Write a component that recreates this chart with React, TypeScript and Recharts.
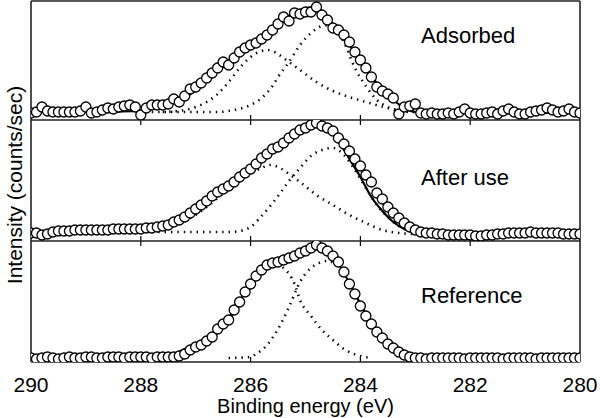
import React from "react";
import { ComposedChart, Line, XAxis, YAxis, ReferenceLine } from "recharts";

const FONT = '"Liberation Sans", Arial, Helvetica, sans-serif';

// Binding-energy grid of the measured points (eV)
const energyGrid: number[] = Array.from({ length: 101 }, (_, i) => +(290 - i * 0.1).toFixed(1));
const xTicks = [290, 288, 286, 284, 282, 280];
const innerTicks = [288, 286, 284, 282];

// Measured intensities (arbitrary units)
const adsorbedCounts = [7,8,13,9,8,8,8,8,8,9, 13,7,8,10,12,11,13,14,15,13, 5,12,15,15,15,16,21,18,24,31, 33,37,42,47,52,58,55,62,68,72, 75,77,81,85,90,96,103,99,107,106, 108,108,113,105,100,92,90,85,78,68, 60,52,43,33,29,26,22,6,13,14, 16,7,6,7,6,6,7,6,8,11, 7,6,6,7,8,6,9,11,8,6, 6,8,9,10,12,10,8,9,11,8, 7];
const afterUseCounts = [8,8,6,7,9,10,10,10,11,11, 11,11,11,11,11,12,12,12,12,12, 12, 13,13,14,15,16,19,21,24,28,32, 36,40,45,49,52,55,59,64,68,72, 77,83,87,92,94,98,103,107,111,113, 116,118,115,113,110,103,97,90,82,75, 66,59,48,42,34,28,23,18,14,11, 9,8,8,7,7,6,6,6,6,6, 5,5,6,6,7,7,8,8,8,8, 9,8,8,8,8,8,7,7,7,7];
const referenceCounts = [4,3,4,5,4,3,4,5,4,4, 5,5,4,4,5,5,5,4,5,5, 5,5,4,5,5,5,5, 6,8,12,15,17,21,25,33,38,42, 52,60,70,78,86,92,97,99,100,102, 104,106,109,111,114,117,114,111,106,100, 90,78,68,56,46,38,30,24,18,14, 10,7,5, 4,4,3,4,4,4,4,4,4,3, 4,4,4,4,4,4,3,4,4,4, 4,4,3,4,4,4,4,4,4,4, 4];

// Fitted envelopes [eV, intensity]
const adsorbedFit: [number, number][] = [[290,8],[289,8],[288,9],[287.8,11],[287.5,15],[287.2,22],[287,30],[286.8,38],[286.6,48],[286.4,58],[286.2,67],[286,76],[285.8,84],[285.6,93],[285.4,101],[285.2,107],[285,112],[284.8,113],[284.6,102],[284.4,88],[284.2,75],[284,60],[283.8,44],[283.6,30],[283.4,20],[283.2,12],[283,8],[282,7],[280,7]];
const afterUseFit: [number, number][] = [[290,8],[289.5,8],[288.5,9],[288,11],[287.8,14],[287.6,17],[287.4,21],[287.2,27],[287,33],[286.8,41],[286.6,50],[286.4,57],[286.2,65],[286,74],[285.8,84],[285.6,93],[285.4,101],[285.2,109],[285,115],[284.8,118],[284.6,113],[284.4,100],[284.2,82],[284,64],[283.8,44],[283.6,30],[283.4,19],[283.2,12],[283,9],[282,6],[281,8],[280,7]];
const referenceFit: [number, number][] = [[290,3],[288,4],[287.6,5],[287.4,8],[287.2,13],[287,17],[286.8,23],[286.6,33],[286.4,44],[286.2,61],[286,78],[285.8,92],[285.6,99],[285.4,102],[285.2,106],[285,111],[284.8,116],[284.7,116],[284.6,111],[284.4,98],[284.2,79],[284,58],[283.8,40],[283.6,26],[283.4,15],[283.2,8],[283,5],[282,4],[280,4]];

// Component peaks [eV, intensity]
const adsorbedPeakA: [number, number][] = [[287.6,8],[287.2,10],[287,13],[286.8,18],[286.6,26],[286.4,38],[286.2,52],[286,63],[285.8,69],[285.7,70],[285.5,66],[285.4,62],[285.1,50],[284.8,38],[284.5,29],[284.2,23],[283.9,18],[283.5,12],[283.2,9],[283,8]];
const adsorbedPeakB: [number, number][] = [[287.8,8],[286.6,8],[286.3,10],[286,15],[285.8,22],[285.6,34],[285.5,43],[285.3,58],[285.1,75],[284.9,87],[284.7,94],[284.5,95],[284.3,78],[284.1,52],[283.9,34],[283.7,20],[283.5,13],[283.3,9],[283,8]];
const afterUsePeakA: [number, number][] = [[288,10],[287.6,13],[287.2,20],[287,26],[286.8,34],[286.6,43],[286.4,51],[286.2,59],[286,67],[285.8,73],[285.65,76],[285.5,74],[285.3,67],[285.1,59],[284.8,46],[284.5,36],[284.2,26],[283.9,18],[283.6,11],[283.3,8],[283,7]];
const afterUsePeakB: [number, number][] = [[287.8,9],[286.4,9],[286.2,10],[286,14],[285.8,25],[285.6,38],[285.5,45],[285.3,60],[285.1,73],[284.9,85],[284.7,91],[284.5,93],[284.3,86],[284.1,71],[283.9,53],[283.7,36],[283.5,24],[283.3,15],[283.1,10],[282.9,8]];
const referencePeakA: [number, number][] = [[287.6,4],[287.4,5],[287,14],[286.6,31],[286.4,42],[286.2,58],[286,75],[285.8,89],[285.65,96],[285.5,97],[285.4,94],[285.2,78],[285.1,62],[284.9,46],[284.7,32],[284.5,22],[284.3,13],[284,6],[283.8,4]];
const referencePeakB: [number, number][] = [[286.4,4],[286,5],[285.9,8],[285.7,17],[285.5,33],[285.3,55],[285.1,80],[284.9,94],[284.7,100],[284.6,101],[284.4,95],[284.2,79],[284,58],[283.8,40],[283.6,26],[283.4,15],[283.2,8],[283,5],[282.6,4]];

const toPts = (vals: number[]) => vals.map((v, i) => ({ x: energyGrid[i], y: v }));
const pairPts = (p: [number, number][]) => p.map(([x, y]) => ({ x, y }));

const renderCircle = (props: any) => (
  <circle key={props.index} cx={props.cx} cy={props.cy} r={5} fill="#fff" stroke="#000" strokeWidth={1.3} />
);

type PanelProps = {
  top: number;
  height: number;
  marginTop: number;
  marginBottom: number;
  yMax: number;
  counts: number[];
  fit: [number, number][];
  peakA: [number, number][];
  peakB: [number, number][];
  showLabels: boolean;
  topTicks: boolean;
};

const BORDER = "#222";

function Panel(p: PanelProps) {
  return (
    <div style={{ position: "absolute", left: 0, top: p.top }}>
      <ComposedChart
        width={600}
        height={p.height}
        margin={{ top: p.marginTop, right: 20, bottom: p.marginBottom, left: 31 }}
      >
        <XAxis
          type="number"
          dataKey="x"
          domain={[280, 290]}
          reversed
          allowDataOverflow
          ticks={xTicks}
          hide={!p.showLabels}
          height={p.showLabels ? 40 : 0}
          tick={{ fontSize: 21, fill: "#000", fontFamily: FONT }}
          tickLine={false}
          tickSize={0}
          tickMargin={15}
          interval={0}
          axisLine={false}
        />
        <YAxis type="number" dataKey="y" domain={[0, p.yMax]} allowDataOverflow hide />
        {innerTicks.map((t) => (
          <ReferenceLine key={"b" + t} segment={[{ x: t, y: 0 }, { x: t, y: 5 }]} stroke="#000" strokeWidth={1.2} />
        ))}
        {p.topTicks &&
          innerTicks.map((t) => (
            <ReferenceLine key={"t" + t} segment={[{ x: t, y: p.yMax }, { x: t, y: p.yMax - 5 }]} stroke="#000" strokeWidth={1.2} />
          ))}
        <ReferenceLine segment={[{ x: 290, y: 0 }, { x: 280, y: 0 }]} stroke={BORDER} strokeWidth={1.6} />
        <ReferenceLine segment={[{ x: 290, y: p.yMax }, { x: 280, y: p.yMax }]} stroke={BORDER} strokeWidth={1.6} />
        <ReferenceLine segment={[{ x: 290, y: 0 }, { x: 290, y: p.yMax }]} stroke={BORDER} strokeWidth={1.6} />
        <ReferenceLine segment={[{ x: 280, y: 0 }, { x: 280, y: p.yMax }]} stroke={BORDER} strokeWidth={1.6} />
        <Line
          data={pairPts(p.peakA)}
          dataKey="y"
          type="monotone"
          stroke="#000"
          strokeWidth={2.6}
          strokeDasharray="1.4 5"
          dot={false}
          activeDot={false}
          isAnimationActive={false}
        />
        <Line
          data={pairPts(p.peakB)}
          dataKey="y"
          type="monotone"
          stroke="#000"
          strokeWidth={2.6}
          strokeDasharray="1.4 5"
          dot={false}
          activeDot={false}
          isAnimationActive={false}
        />
        <Line
          data={toPts(p.counts)}
          dataKey="y"
          stroke="none"
          dot={renderCircle}
          activeDot={false}
          isAnimationActive={false}
        />
        <Line
          data={pairPts(p.fit)}
          dataKey="y"
          type="monotone"
          stroke="#000"
          strokeWidth={2.2}
          dot={false}
          activeDot={false}
          isAnimationActive={false}
        />
      </ComposedChart>
    </div>
  );
}

export default function App() {
  return (
    <div style={{ position: "absolute", left: 0, top: 0, width: 600, height: 418, background: "#fff" }}>
      <Panel top={0} height={120} marginTop={1} marginBottom={0} yMax={119}
        counts={adsorbedCounts} fit={adsorbedFit} peakA={adsorbedPeakA} peakB={adsorbedPeakB}
        showLabels={false} topTicks={false} />
      <Panel top={120} height={121} marginTop={0} marginBottom={0} yMax={121}
        counts={afterUseCounts} fit={afterUseFit} peakA={afterUsePeakA} peakB={afterUsePeakB}
        showLabels={false} topTicks={true} />
      <Panel top={241} height={177} marginTop={0} marginBottom={16} yMax={121}
        counts={referenceCounts} fit={referenceFit} peakA={referencePeakA} peakB={referencePeakB}
        showLabels={true} topTicks={true} />
      <svg width={600} height={418} style={{ position: "absolute", left: 0, top: 0, pointerEvents: "none" }}>
        <g fontFamily={FONT} fill="#000">
          <text x={421} y={43} fontSize={22}>Adsorbed</text>
          <text x={421} y={185} fontSize={22}>After use</text>
          <text x={421} y={303} fontSize={22}>Reference</text>
          <text x={305.5} y={413} fontSize={20} textAnchor="middle">Binding energy (eV)</text>
          <text x={22} y={185} fontSize={21} textAnchor="middle" transform="rotate(-90 22 185)">
            Intensity (counts/sec)
          </text>
        </g>
      </svg>
    </div>
  );
}
